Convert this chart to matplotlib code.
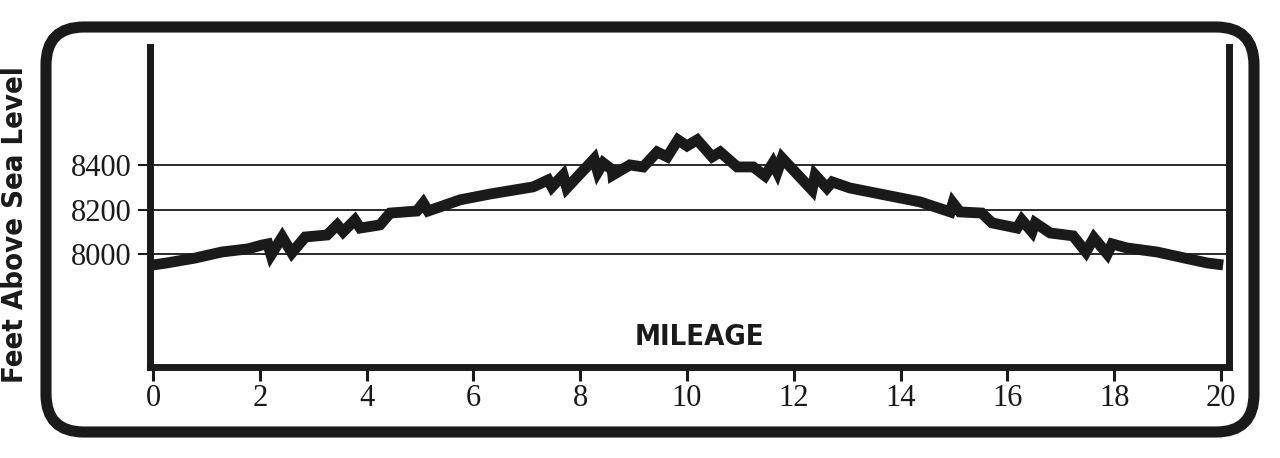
import matplotlib
matplotlib.use('Agg')
import numpy as np, matplotlib.pyplot as plt
from matplotlib.patches import FancyBboxPatch

# --- elevation profile (miles, feet) ---
mileage = [0.0, 0.26, 0.79, 1.29, 1.78, 2.04, 2.15, 2.21, 2.42, 2.60, 2.85, 3.26, 3.45, 3.56,
           3.78, 3.88, 4.25, 4.44, 4.94, 5.06, 5.15, 5.75, 6.31, 7.12, 7.40, 7.47, 7.68, 7.75,
           8.26, 8.33, 8.43, 8.60, 8.61, 8.93, 9.18, 9.44, 9.63, 9.83, 10.0, 10.19, 10.47, 10.62,
           10.94, 11.24, 11.46, 11.61, 11.69, 11.78, 12.34, 12.40, 12.62, 12.72, 13.05, 14.36,
           14.93, 14.98, 15.11, 15.52, 15.71, 16.18, 16.27, 16.46, 16.52, 16.80, 17.23, 17.47,
           17.62, 17.87, 17.96, 18.24, 18.80, 19.74, 20.04]
elevation = [7953, 7962, 7984, 8011, 8025, 8042, 8047, 7998, 8078, 8007, 8078, 8087, 8132, 8101,
             8154, 8118, 8132, 8185, 8194, 8230, 8194, 8244, 8270, 8302, 8333, 8302, 8355, 8297,
             8427, 8369, 8409, 8378, 8355, 8400, 8391, 8458, 8436, 8512, 8485, 8512, 8436, 8458,
             8391, 8391, 8351, 8409, 8369, 8431, 8288, 8355, 8297, 8324, 8297, 8235,
             8190, 8230, 8190, 8185, 8141, 8118, 8154, 8101, 8141, 8096, 8083, 8011,
             8074, 8002, 8047, 8029, 8011, 7962, 7953]
x_ticks = [0, 2, 4, 6, 8, 10, 12, 14, 16, 18, 20]
y_ticks = [8000, 8200, 8400]

ink = '#1a1a1a'
fig = plt.figure(figsize=(12.8, 4.58), dpi=100)

# --- rounded frame, drawn in pixel coords on a background axes ---
bg = fig.add_axes([0, 0, 1, 1], zorder=0)
bg.set_xlim(0, 1280); bg.set_ylim(458, 0); bg.axis('off')
bg.add_patch(FancyBboxPatch((46, 27), 1208, 405, boxstyle='round,pad=0,rounding_size=38',
                            fill=False, ec=ink, lw=8))

# --- profile axes ---
ax = fig.add_axes([149.5/1280, 1-367/458, 1079/1280, 320/458], zorder=1)
ax.patch.set_alpha(0)
ax.plot(mileage, elevation, color=ink, lw=7.8, solid_joinstyle='miter', solid_capstyle='butt', zorder=3)
for yv in y_ticks:
    ax.axhline(yv, color='#2a2a2a', lw=1.4, zorder=1)

ax.set_xlim(-0.066, 20.14)
ax.set_ylim(7497, 8927)
ax.spines['top'].set_visible(False)
for s in ['left', 'right', 'bottom']:
    ax.spines[s].set_linewidth(5)
    ax.spines[s].set_color(ink)
ax.set_xticks(x_ticks)
ax.set_yticks(y_ticks)
ax.tick_params(axis='x', direction='out', length=10, width=2.2, color=ink, pad=2,
               labelsize=22, labelcolor=ink)
ax.tick_params(axis='y', direction='out', length=9, width=1.5, color=ink, pad=4,
               labelsize=22, labelcolor=ink)
for lbl in ax.get_xticklabels() + ax.get_yticklabels():
    lbl.set_family(['Liberation Serif', 'DejaVu Serif'])

cond = ['Liberation Sans Narrow', 'DejaVu Sans']
ax.text(0.5093, 0.095, 'MILEAGE', transform=ax.transAxes, ha='center', va='center',
        fontsize=21, fontweight='bold', fontstretch='condensed', family=cond, color=ink)
fig.text(15/1280, 1-225/458, 'Feet Above Sea Level', rotation=90, ha='center', va='center',
         fontsize=21, fontweight='bold', fontstretch='condensed', family=cond, color=ink)

plt.savefig('out.png', dpi=100)
plt.close()
